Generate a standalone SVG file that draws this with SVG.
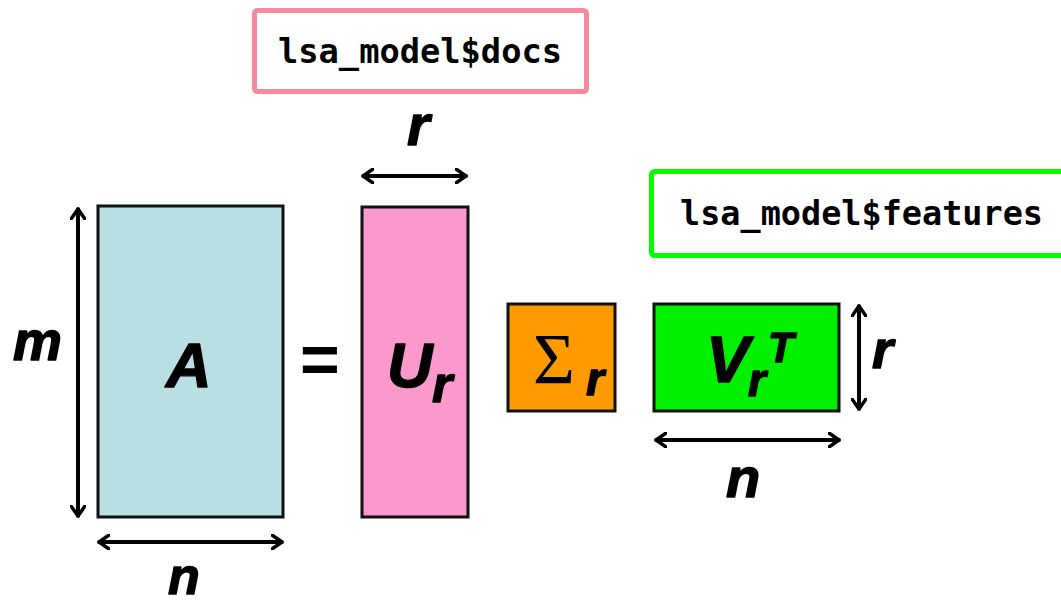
<svg xmlns="http://www.w3.org/2000/svg" width="1061" height="600" viewBox="0 0 1061 600">
<style>
.mat{stroke:#111;stroke-width:3}
.lbl{font-family:"Liberation Sans",Arial,sans-serif;font-weight:bold;font-style:italic;fill:#000;stroke:#000;stroke-width:1.4;stroke-linejoin:round}
.code{font-family:"DejaVu Sans Mono","Liberation Mono",monospace;font-weight:bold;font-size:33px;fill:#000}
.dim{fill:none;stroke:#000;stroke-width:4;stroke-linecap:round}
</style>
<defs>
<marker id="ah" viewBox="0 0 12 16" refX="11" refY="8" markerWidth="12" markerHeight="16" markerUnits="userSpaceOnUse" orient="auto-start-reverse">
<path d="M1,1 L11,8 L1,15" fill="none" stroke="#000" stroke-width="3.5" stroke-linecap="round"/>
</marker>
</defs>
<rect width="1061" height="600" fill="#fff"/>
<g id="docs-label">
<rect x="254.5" y="10.5" width="332" height="81" rx="3" fill="#fff" stroke="#F48A9C" stroke-width="5"/>
<text class="code" x="278" y="63" textLength="284" lengthAdjust="spacingAndGlyphs">lsa_model$docs</text>
</g>
<g id="features-label">
<rect x="651.5" y="171.5" width="420" height="84" rx="3" fill="#fff" stroke="#00FF00" stroke-width="5"/>
<text class="code" x="680" y="225" textLength="363" lengthAdjust="spacingAndGlyphs">lsa_model$features</text>
</g>
<g id="A">
<rect class="mat" x="98" y="206" width="185" height="311" fill="#B9DFE2"/>
<text class="lbl" x="166" y="387" font-size="63">A</text>
</g>
<g id="equals">
<text x="300" y="383" font-family="Liberation Sans,Arial,sans-serif" font-weight="bold" font-size="68" fill="#000">=</text>
</g>
<g id="Ur">
<rect class="mat" x="362" y="207" width="106" height="310" fill="#FB99CD"/>
<text class="lbl" x="387" y="387" font-size="63">U</text>
<text class="lbl" x="432" y="402" font-size="52">r</text>
</g>
<g id="Sigma">
<rect class="mat" x="508" y="304" width="107" height="107" fill="#FF9A00"/>
<text x="533" y="383" font-family="Liberation Serif,Times New Roman,serif" font-size="72" fill="#000">Σ</text>
<text class="lbl" x="586" y="395" font-size="46">r</text>
</g>
<g id="VrT">
<rect class="mat" x="654" y="304" width="185" height="107" fill="#00F000"/>
<text class="lbl" x="706" y="382" font-size="65">V</text>
<text class="lbl" x="748" y="396" font-size="46">r</text>
<text class="lbl" x="768" y="362" font-size="42">T</text>
</g>
<g id="dims">
<line class="dim" x1="78" y1="209" x2="78" y2="516" marker-start="url(#ah)" marker-end="url(#ah)"/>
<text class="lbl" x="13" y="360" font-size="55">m</text>
<line class="dim" x1="99" y1="542" x2="282" y2="542" marker-start="url(#ah)" marker-end="url(#ah)"/>
<text class="lbl" x="168" y="594" font-size="52">n</text>
<line class="dim" x1="363" y1="176" x2="466" y2="176" marker-start="url(#ah)" marker-end="url(#ah)"/>
<text class="lbl" x="407" y="145" font-size="58">r</text>
<line class="dim" x1="859" y1="306" x2="859" y2="409" marker-start="url(#ah)" marker-end="url(#ah)"/>
<text class="lbl" x="872" y="368" font-size="54">r</text>
<line class="dim" x1="656" y1="440" x2="839" y2="440" marker-start="url(#ah)" marker-end="url(#ah)"/>
<text class="lbl" x="726" y="497" font-size="56">n</text>
</g>
</svg>
